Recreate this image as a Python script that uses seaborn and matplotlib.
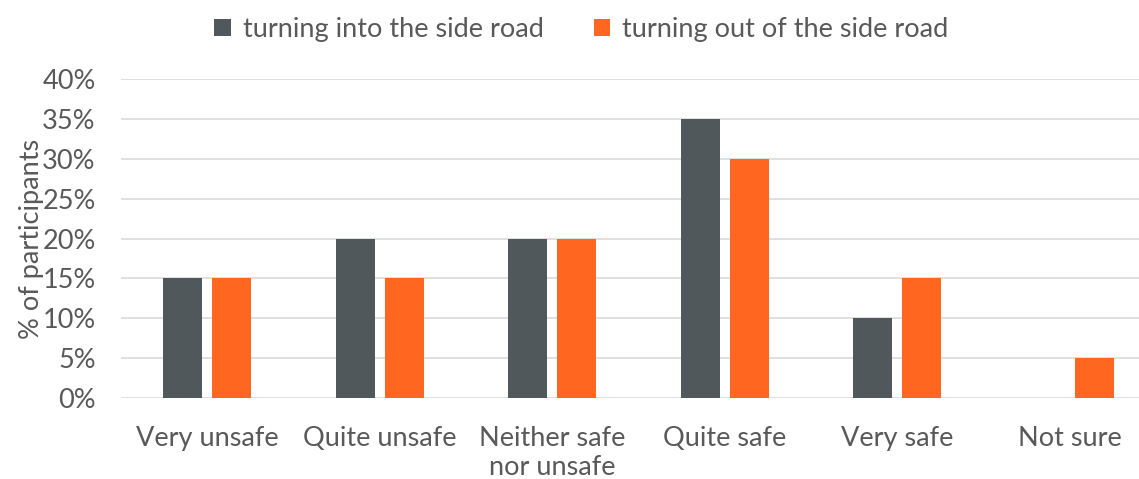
"""
Perceived safety when turning into / out of the side road
"""

import pandas as pd
import matplotlib.pyplot as plt
import matplotlib.ticker as mticker
import seaborn as sns

categories = ['Very unsafe', 'Quite unsafe', 'Neither safe\nnor unsafe',
              'Quite safe', 'Very safe', 'Not sure']
into_side_road = [0.15, 0.20, 0.20, 0.35, 0.10, 0.0]
out_of_side_road = [0.15, 0.15, 0.20, 0.30, 0.15, 0.05]
series_names = ['turning into the side road', 'turning out of the side road']
y_ticks = [0, 0.05, 0.10, 0.15, 0.20, 0.25, 0.30, 0.35, 0.40]

df = pd.DataFrame({
    'category': categories * 2,
    'value': into_side_road + out_of_side_road,
    'series': [series_names[0]] * len(categories) + [series_names[1]] * len(categories),
})

sns.set_style('white')
plt.rcParams['font.family'] = ['Lato', 'DejaVu Sans']
text_color = '#595959'

fig = plt.figure(figsize=(11.39, 4.79), dpi=100)
ax = fig.add_axes([0.106, 0.169, 0.909, 0.666])

sns.barplot(data=df, x='category', y='value', hue='series', order=categories,
            palette=['#50585B', '#FF6720'], saturation=1, width=0.568, gap=0.204,
            linewidth=0, ax=ax)

ax.set_ylim(0, 0.40)
ax.set_yticks(y_ticks)
ax.yaxis.set_major_formatter(mticker.PercentFormatter(1.0, decimals=0))
ax.grid(axis='y', color='#D9D9D9', linewidth=1.2)
ax.set_axisbelow(True)
for s in ax.spines.values():
    s.set_visible(False)

ax.tick_params(axis='both', length=0, labelsize=19.5, colors=text_color)
ax.tick_params(axis='y', pad=18)
ax.tick_params(axis='x', pad=20)
ax.set_xlabel('')
ax.set_ylabel('% of participants', fontsize=19.5, color=text_color)
ax.yaxis.set_label_coords(-0.074, 0.5)

handles, labels = ax.get_legend_handles_labels()
ax.legend(handles, labels, loc='upper center', bbox_to_anchor=(0.445, 1.27),
          ncol=2, frameon=False, fontsize=19.5, labelcolor=text_color,
          handlelength=0.6, handleheight=0.6, handletextpad=0.45, columnspacing=1.85)

plt.savefig('out.png', dpi=100)
